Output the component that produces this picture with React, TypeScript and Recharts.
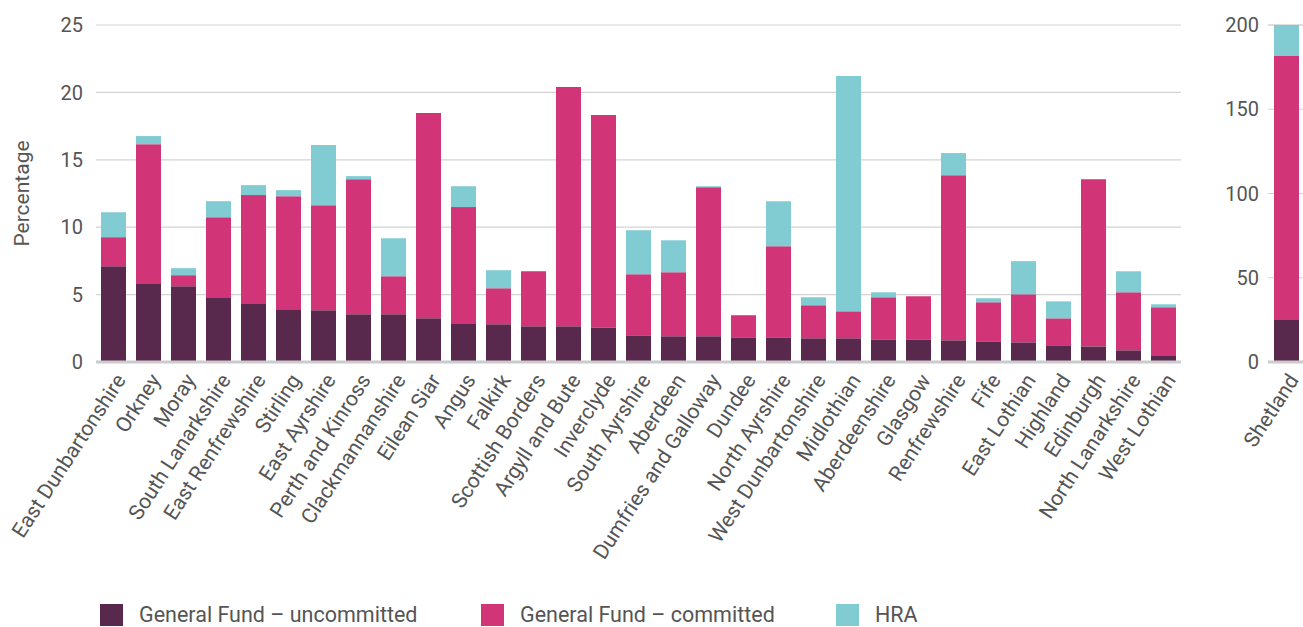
import { BarChart, Bar, XAxis, YAxis, CartesianGrid } from 'recharts';

// Councils, ordered as in the report (by uncommitted General Fund reserve)
const councils = [
  'East Dunbartonshire', 'Orkney', 'Moray', 'South Lanarkshire', 'East Renfrewshire',
  'Stirling', 'East Ayrshire', 'Perth and Kinross', 'Clackmannanshire', 'Eilean Siar',
  'Angus', 'Falkirk', 'Scottish Borders', 'Argyll and Bute', 'Inverclyde',
  'South Ayrshire', 'Aberdeen', 'Dumfries and Galloway', 'Dundee', 'North Ayrshire',
  'West Dunbartonshire', 'Midlothian', 'Aberdeenshire', 'Glasgow', 'Renfrewshire',
  'Fife', 'East Lothian', 'Highland', 'Edinburgh', 'North Lanarkshire', 'West Lothian',
];
const uncommitted = [
  7.1, 5.84, 5.62, 4.8, 4.36, 3.91, 3.84, 3.54, 3.54, 3.24,
  2.87, 2.8, 2.65, 2.65, 2.57, 1.98, 1.91, 1.91, 1.83, 1.83,
  1.76, 1.76, 1.68, 1.68, 1.61, 1.53, 1.46, 1.24, 1.16, 0.87, 0.5,
];
const committed = [
  2.16, 10.32, 0.82, 5.94, 8.02, 8.39, 7.79, 10.02, 2.82, 15.23,
  8.62, 2.67, 4.08, 17.75, 15.75, 4.53, 4.75, 11.06, 1.64, 6.76,
  2.45, 2.0, 3.12, 3.2, 12.25, 2.9, 3.56, 2.0, 12.4, 4.3, 3.56,
];
const hra = [
  1.85, 0.6, 0.52, 1.19, 0.74, 0.45, 4.46, 0.23, 2.82, 0,
  1.55, 1.34, 0, 0, 0, 3.27, 2.37, 0.07, 0, 3.34,
  0.59, 17.45, 0.37, 0, 1.64, 0.3, 2.46, 1.26, 0, 1.56, 0.22,
];
const percentTicks = [0, 5, 10, 15, 20, 25];

// Shetland is shown on its own scale
const outlier = ['Shetland'];
const outlierUncommitted = [25.3];
const outlierCommitted = [156.3];
const outlierHra = [18.4];
const outlierTicks = [0, 50, 100, 150, 200];

const seriesNames = ['General Fund – uncommitted', 'General Fund – committed', 'HRA'];
const seriesColors = ['#58294c', '#d13577', '#81cbd3'];

const mainData = councils.map((name, i) => ({
  name,
  uncommitted: uncommitted[i],
  committed: committed[i],
  hra: hra[i],
}));

const outlierData = outlier.map((name, i) => ({
  name,
  uncommitted: outlierUncommitted[i],
  committed: outlierCommitted[i],
  hra: outlierHra[i],
}));

const textColor = '#555555';
const font = 'Roboto, "Liberation Sans", sans-serif';

const AngledTick = ({ x, y, payload }: any) => (
  <g transform={`translate(${x + 13},${y + 10})`}>
    <text textAnchor="end" transform="rotate(-57)" fill={textColor} fontSize={21} fontFamily={font}>
      {payload.value}
    </text>
  </g>
);

const PercentLabel = (props: any) => {
  const { x, y, height } = props.viewBox;
  const cx = x + 29;
  const cy = y + height / 2;
  return (
    <text x={cx} y={cy} transform={`rotate(-90, ${cx}, ${cy})`} textAnchor="middle" fill={textColor} fontSize={21} fontFamily={font}>
      Percentage
    </text>
  );
};

function Stack() {
  return [
    <Bar key="u" dataKey="uncommitted" stackId="a" fill={seriesColors[0]} barSize={25} isAnimationActive={false} />,
    <Bar key="c" dataKey="committed" stackId="a" fill={seriesColors[1]} barSize={25} isAnimationActive={false} />,
    <Bar key="h" dataKey="hra" stackId="a" fill={seriesColors[2]} barSize={25} isAnimationActive={false} />,
  ];
}

export default function App() {
  const legendLeft = [100, 481, 836];
  return (
    <div style={{ position: 'absolute', left: 0, top: 0, width: 1303, height: 627, overflow: 'hidden', background: '#fff', fontFamily: font }}>
      <div style={{ position: 'absolute', left: 0, top: 0 }}>
        <BarChart width={1195} height={627} data={mainData} margin={{ top: 25, right: 14, left: 0, bottom: 0 }}>
          <CartesianGrid vertical={false} stroke="#d3d3d3" strokeWidth={1.2} />
          <XAxis
            dataKey="name"
            interval={0}
            height={265}
            tickLine={false}
            axisLine={{ stroke: '#cccccc', strokeWidth: 3 }}
            tick={<AngledTick />}
          />
          <YAxis
            width={96}
            domain={[0, 25]}
            ticks={percentTicks}
            tickLine={false}
            axisLine={false}
            tickMargin={7}
            tick={{ fill: textColor, fontSize: 20, fontFamily: font }}
            label={{ content: <PercentLabel /> }}
          />
          {Stack()}
        </BarChart>
      </div>
      <div style={{ position: 'absolute', left: 1195, top: 0 }}>
        <BarChart width={110} height={627} data={outlierData} margin={{ top: 25, right: 0, left: 0, bottom: 0 }}>
          <CartesianGrid vertical={false} stroke="#d3d3d3" strokeWidth={1.2} />
          <XAxis
            dataKey="name"
            interval={0}
            height={265}
            tickLine={false}
            axisLine={{ stroke: '#cccccc', strokeWidth: 3 }}
            tick={<AngledTick />}
          />
          <YAxis
            width={73}
            domain={[0, 200]}
            ticks={outlierTicks}
            tickLine={false}
            axisLine={false}
            tickMargin={3}
            tick={{ fill: textColor, fontSize: 20, fontFamily: font }}
          />
          {Stack()}
        </BarChart>
      </div>
      {seriesNames.map((name, i) => (
        <div
          key={name}
          style={{ position: 'absolute', left: legendLeft[i], top: 604, display: 'flex', alignItems: 'center', height: 22 }}
        >
          <span style={{ width: 23, height: 22, background: seriesColors[i], display: 'inline-block', marginRight: 16 }} />
          <span style={{ color: textColor, fontSize: 21.5, lineHeight: '22px', whiteSpace: 'nowrap' }}>{name}</span>
        </div>
      ))}
    </div>
  );
}
